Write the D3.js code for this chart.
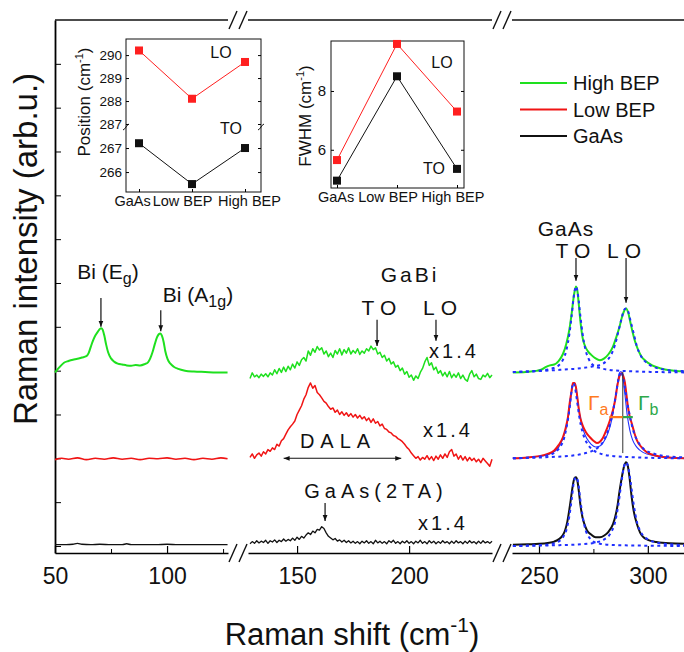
<!DOCTYPE html>
<html>
<head>
<meta charset="utf-8">
<script src="https://cdn.jsdelivr.net/npm/d3@7"></script>
<style>
body { margin: 0; background: #fff; }
text { font-family: "Liberation Sans", Arial, sans-serif; fill: #111; }
</style>
</head>
<body>
<div id="my_dataviz"></div>
<script>
// ---- data ----
var samples = ["GaAs", "Low BEP", "High BEP"];
var posLO = [290.2, 288.1, 289.7];
var posTO = [267.2, 265.5, 267.0];
var fwhmLO = [5.65, 9.6, 7.3];
var fwhmTO = [4.95, 8.5, 5.35];

var legendNames = ["High BEP", "Low BEP", "GaAs"];
var colors = { high: "#1ee01e", low: "#f01414", gaas: "#111111", fit: "#1f2fff" };

// panel 1 (Bi modes), [shift, intensity]
var highBi = [[50,3.96],[52,4.08],[54,4.18],[56,4.22],[58,4.25],[60,4.27],[62,4.3],[64,4.33],[65,4.4],[66,4.55],[67,4.69],[68,4.8],[69,4.88],[70,4.95],[70.6,4.97],[71.3,4.93],[72,4.8],[72.8,4.6],[73.7,4.42],[75,4.28],[76.5,4.2],[78,4.16],[80,4.14],[82,4.12],[84,4.11],[86,4.13],[88,4.12],[90,4.15],[91.5,4.19],[92.5,4.28],[93.5,4.42],[94.5,4.6],[95.5,4.76],[96.3,4.83],[97,4.85],[97.7,4.8],[98.5,4.65],[99.2,4.45],[100.2,4.27],[101.5,4.16],[103,4.09],[105,4.04],[108,4.0],[112,3.98],[117,3.97],[122,3.96],[127,3.96]];
var lowBi = [[50,1.97],[53,2.0],[56,1.98],[60,2.01],[64,1.97],[68,2.0],[72,1.98],[76,2.01],[80,1.98],[84,2.0],[88,1.97],[92,2.0],[96,1.99],[100,2.01],[104,1.98],[108,2.0],[112,1.97],[116,2.0],[120,1.98],[124,2.01],[127,1.99]];
var gaasBi = [[50,0.03],[55,0.03],[58,0.04],[60,0.06],[62,0.04],[66,0.03],[70,0.04],[75,0.03],[80,0.03],[82,0.05],[84,0.03],[90,0.03],[95,0.03],[100,0.04],[105,0.03],[110,0.03],[115,0.03],[120,0.03],[127,0.03]];

// panel 2 (GaBi / DALA), one value per cm-1 from 129
var gabiStart = 129;
var highGaBi = [3.82,3.95,3.86,3.9,3.84,3.92,3.87,3.93,3.86,3.95,
  3.9,4.02,3.93,4.05,3.96,4.08,3.98,4.1,4.02,4.15,
  4.06,4.2,4.12,4.25,4.3,4.22,4.45,4.35,4.5,4.42,
  4.55,4.47,4.52,4.38,4.45,4.32,4.4,4.3,4.46,4.38,
  4.5,4.36,4.48,4.4,4.52,4.38,4.46,4.4,4.5,4.37,
  4.45,4.4,4.5,4.45,4.56,4.48,4.52,4.38,4.42,4.3,
  4.35,4.22,4.28,4.15,4.2,4.08,4.12,4.0,4.06,3.92,
  3.98,3.85,3.9,3.78,3.88,3.82,3.96,4.05,4.2,4.3,
  4.12,4.18,4.02,4.08,3.94,4.0,3.88,3.96,3.86,3.98,
  3.84,3.92,3.85,3.95,3.82,3.9,3.8,3.76,3.92,4.0,
  3.86,3.92,3.82,3.8,3.9,3.86,3.94,3.84,3.9];
var lowGaBi = [2.02,2.1,2.0,2.08,2.12,2.05,2.15,2.1,2.2,2.16,
  2.24,2.2,2.32,2.28,2.4,2.45,2.55,2.65,2.72,2.78,
  2.85,3.0,3.1,3.2,3.35,3.45,3.62,3.72,3.6,3.66,
  3.5,3.45,3.38,3.3,3.26,3.18,3.12,3.15,3.05,3.1,
  3.0,3.06,2.98,3.04,2.96,3.02,2.94,3.0,2.92,2.98,
  2.9,2.95,2.86,2.92,2.82,2.9,2.8,2.84,2.74,2.78,
  2.68,2.66,2.6,2.58,2.52,2.5,2.45,2.42,2.38,2.32,
  2.25,2.2,2.12,2.06,2.0,2.04,1.96,2.02,1.98,2.06,
  1.97,2.04,1.95,2.05,1.98,2.08,2.0,2.1,2.02,2.15,
  2.2,2.05,2.1,1.98,2.06,1.96,2.04,1.94,2.02,1.95,
  2.0,1.92,1.98,1.9,2.0,1.94,1.88,1.82,1.98];
var gaasGaBi = [0.05,0.1,0.06,0.12,0.07,0.11,0.08,0.13,0.06,0.12,
  0.09,0.14,0.08,0.13,0.1,0.16,0.11,0.15,0.12,0.18,
  0.13,0.2,0.15,0.22,0.18,0.25,0.3,0.26,0.34,0.3,
  0.38,0.36,0.44,0.4,0.3,0.22,0.18,0.14,0.17,0.11,
  0.14,0.09,0.13,0.08,0.12,0.07,0.11,0.06,0.1,0.05,
  0.11,0.07,0.12,0.06,0.1,0.05,0.13,0.07,0.11,0.06,
  0.1,0.05,0.12,0.08,0.13,0.06,0.1,0.05,0.11,0.07,
  0.12,0.06,0.1,0.05,0.11,0.07,0.13,0.06,0.1,0.05,
  0.12,0.07,0.11,0.05,0.1,0.06,0.12,0.07,0.1,0.05,
  0.11,0.06,0.12,0.07,0.1,0.05,0.11,0.06,0.12,0.07,
  0.1,0.05,0.11,0.06,0.12,0.07,0.1,0.06,0.11];

// panel 3 (GaAs TO/LO), [shift, intensity]
var highGaAs = [[238,3.96],[244,3.97],[248,3.99],[251,4.02],[253,4.08],[255,4.12],[257,4.14],[259,4.22],[261,4.38],[262.5,4.6],[264,4.95],[265,5.3],[266,5.7],[267,5.92],[267.7,5.8],[268.4,5.45],[269.2,5.05],[270,4.76],[271,4.58],[272.5,4.44],[274,4.36],[276,4.28],[278,4.24],[280,4.28],[282,4.38],[284,4.55],[285.5,4.76],[287,5.0],[288,5.2],[289,5.35],[290,5.42],[291,5.32],[292,5.1],[293,4.88],[294,4.69],[295.5,4.48],[297,4.33],[299,4.22],[302,4.12],[306,4.05],[310,4.01],[318,3.98]];
var lowGaAs = [[238,2.0],[245,2.02],[250,2.05],[254,2.1],[257,2.18],[259,2.3],[261,2.48],[262.3,2.7],[263.3,2.94],[264.2,3.3],[265,3.55],[265.6,3.72],[266.3,3.72],[267,3.62],[267.6,3.4],[268.3,3.12],[269,2.92],[270,2.76],[271.5,2.6],[273.4,2.48],[275,2.4],[276.6,2.35],[278,2.38],[279.4,2.47],[281,2.65],[282.6,2.87],[284,3.1],[285,3.33],[286.2,3.71],[287.2,3.9],[288,3.94],[288.7,3.88],[289.4,3.75],[290.2,3.45],[290.8,3.2],[291.7,2.95],[292.6,2.8],[294,2.55],[295,2.41],[297,2.26],[299.5,2.14],[303,2.07],[307,2.03],[318,2.0]];
var gaasGaAs = [[238,0.03],[245,0.04],[250,0.05],[254,0.07],[257,0.1],[259,0.15],[261,0.25],[262,0.36],[263,0.55],[264,0.85],[265,1.2],[265.6,1.4],[266.3,1.55],[267,1.57],[267.6,1.5],[268.3,1.25],[269,0.95],[270,0.65],[271,0.48],[272,0.36],[274,0.26],[276,0.2],[278,0.2],[280,0.24],[282,0.33],[284,0.5],[285,0.66],[286,0.9],[287,1.25],[288,1.55],[289,1.8],[290,1.91],[290.7,1.85],[291.5,1.6],[292.5,1.15],[293.5,0.8],[295,0.5],[296.5,0.3],[298,0.2],[300,0.14],[304,0.09],[310,0.06],[318,0.05]];

// Lorentzian components and fit
var highTOfit = [[238,3.97],[250,4.0],[256,4.05],[259,4.12],[261,4.25],[262.5,4.45],[264,4.85],[265,5.25],[266,5.7],[267,5.92],[268,5.7],[269,5.25],[270,4.85],[271.5,4.45],[273,4.25],[275,4.12],[278,4.06],[282,4.02],[290,3.99],[318,3.96]];
var highLOfit = [[238,3.97],[250,3.99],[260,4.02],[266,4.04],[270,4.06],[274,4.09],[278,4.13],[281,4.22],[283,4.35],[285,4.6],[286.5,4.9],[288,5.2],[289,5.38],[290,5.42],[291,5.35],[292,5.15],[293.5,4.85],[295,4.55],[297,4.32],[299,4.2],[302,4.1],[306,4.04],[312,4.0],[318,3.99]];
var lowTOfit = [[238,2.0],[250,2.04],[255,2.08],[258,2.16],[260,2.28],[261.5,2.45],[263,2.8],[264.2,3.2],[265,3.55],[265.8,3.72],[266.6,3.6],[267.5,3.3],[268.5,2.95],[270,2.6],[272,2.35],[274,2.22],[277,2.13],[280,2.08],[285,2.05],[295,2.02],[318,2.0]];
var lowLOfit = [[238,2.0],[255,2.03],[265,2.06],[270,2.1],[274,2.16],[277,2.24],[279.5,2.38],[281.5,2.6],[283.5,2.95],[285,3.35],[286.3,3.75],[287.7,3.98],[289,3.75],[290.3,3.35],[291.8,2.95],[293.5,2.6],[295.5,2.38],[298,2.22],[302,2.12],[308,2.05],[318,2.02]];
var lowSumFit = [[238,2.0],[250,2.04],[256,2.12],[259,2.25],[261,2.45],[262.5,2.7],[263.7,3.0],[264.7,3.4],[265.6,3.7],[266.4,3.72],[267.3,3.5],[268.2,3.15],[269.3,2.85],[270.5,2.62],[272,2.45],[274,2.32],[276,2.26],[278,2.28],[280,2.4],[282,2.62],[283.5,2.9],[284.8,3.3],[286,3.7],[287,3.95],[287.7,3.98],[288.5,3.85],[289.5,3.45],[290.5,3.0],[291.7,2.65],[293,2.42],[295,2.25],[298,2.13],[303,2.06],[310,2.02],[318,2.0]];
var gaasTOfit = [[238,0.0],[250,0.02],[256,0.05],[259,0.1],[261,0.2],[262.5,0.35],[264,0.7],[265,1.05],[266,1.45],[267,1.57],[268,1.45],[269,1.05],[270,0.7],[271.5,0.35],[273,0.2],[275,0.1],[278,0.05],[285,0.02],[318,0.0]];
var gaasLOfit = [[238,0.0],[260,0.02],[270,0.04],[276,0.08],[280,0.15],[283,0.3],[285,0.55],[286.5,0.95],[288,1.5],[289,1.8],[290,1.91],[291,1.8],[292,1.5],[293.5,0.95],[295,0.55],[297,0.3],[300,0.15],[304,0.08],[310,0.04],[318,0.02]];

var yTicks = d3.range(0, 12);

// ---- svg ----
var W = 684, H = 652;
var svg = d3.select("#my_dataviz").append("svg")
  .attr("width", W).attr("height", H);

var defs = svg.append("defs");
defs.append("marker").attr("id", "head")
  .attr("viewBox", "0 0 10 10").attr("refX", 10).attr("refY", 5)
  .attr("markerWidth", 6).attr("markerHeight", 6).attr("orient", "auto-start-reverse")
  .attr("markerUnits", "userSpaceOnUse")
  .append("path").attr("d", "M0,1 L10,5 L0,9 Z").attr("fill", "#111");

// scales for the three broken-axis panels
var y = d3.scaleLinear().domain([-0.16, 12]).range([553, 20]);
var x1 = d3.scaleLinear().domain([50, 127.2]).range([55, 228]);
var x2 = d3.scaleLinear().domain([128.1, 237]).range([248, 492]);
var x3 = d3.scaleLinear().domain([237.6, 318]).range([512, 687]);

function lineOn(xs, curve) {
  return d3.line().x(function(d) { return xs(d[0]); }).y(function(d) { return y(d[1]); })
    .curve(curve || d3.curveLinear);
}
function zipGrid(vals) {
  return vals.map(function(v, i) { return [gabiStart + i, v]; });
}

// Add X axis segments
var bottomAxes = [
  { s: x1, major: [50, 100], minor: [75, 125] },
  { s: x2, major: [150, 200], minor: [] },
  { s: x3, major: [250, 300], minor: [275] }
];
bottomAxes.forEach(function(a) {
  var g = svg.append("g").attr("transform", "translate(0,553)")
    .call(d3.axisBottom(a.s).tickValues(a.major).tickSize(-7).tickSizeOuter(0).tickPadding(15));
  g.select(".domain").attr("stroke-width", 1.6);
  g.selectAll(".tick line").attr("stroke-width", 1.2);
  g.selectAll("text").style("font-size", "23px").attr("fill", "#111");
  if (a.minor.length) {
    svg.append("g").attr("transform", "translate(0,553)")
      .call(d3.axisBottom(a.s).tickValues(a.minor).tickSize(-4).tickFormat(""))
      .select(".domain").remove();
  }
});

// top frame line, broken like the bottom axis
[[x1, 50, 127.2], [x2, 128.1, 237], [x3, 237.6, 318]].forEach(function(p) {
  svg.append("line").attr("x1", p[0](p[1])).attr("x2", p[0](p[2]))
    .attr("y1", 20).attr("y2", 20).attr("stroke", "#111").attr("stroke-width", 1.6);
});

// break marks
function breakMark(xc, yc) {
  [-5, 5].forEach(function(o) {
    svg.append("line")
      .attr("x1", xc + o - 4).attr("y1", yc + 9)
      .attr("x2", xc + o + 4).attr("y2", yc - 9)
      .attr("stroke", "#111").attr("stroke-width", 1.4);
  });
}
var gap1 = (x1(127.2) + x2(128.1)) / 2, gap2 = (x2(237) + x3(237.6)) / 2;
breakMark(gap1, 553); breakMark(gap2, 553);
breakMark(gap1, 20); breakMark(gap2, 20);

// Add Y axis
var ya = svg.append("g").attr("transform", "translate(55,0)")
  .call(d3.axisLeft(y).tickValues(yTicks).tickSize(-6).tickSizeOuter(0).tickFormat(""));
ya.select(".domain").attr("stroke-width", 1.8);

// ---- spectra ----
var smooth = d3.curveMonotoneX;
function drawLine(data, xs, color, width, curve, dash) {
  var p = svg.append("path").datum(data)
    .attr("fill", "none").attr("stroke", color).attr("stroke-width", width)
    .attr("stroke-linejoin", "round")
    .attr("d", lineOn(xs, curve));
  if (dash) p.attr("stroke-dasharray", dash);
  return p;
}

drawLine(highBi, x1, colors.high, 2, smooth);
drawLine(lowBi, x1, colors.low, 1.6, smooth);
drawLine(gaasBi, x1, colors.gaas, 1.4, smooth);

drawLine(zipGrid(highGaBi), x2, colors.high, 1.5);
drawLine(zipGrid(lowGaBi), x2, colors.low, 1.5);
drawLine(zipGrid(gaasGaBi), x2, colors.gaas, 1.3);

drawLine(lowSumFit, x3, colors.fit, 1.1, smooth);
drawLine(highGaAs, x3, colors.high, 2, smooth);
drawLine(lowGaAs, x3, colors.low, 2, smooth);
drawLine(gaasGaAs, x3, colors.gaas, 2, smooth);
[highTOfit, highLOfit, lowTOfit, lowLOfit, gaasTOfit, gaasLOfit].forEach(function(c) {
  drawLine(c, x3, colors.fit, 2, smooth, "3,3.5");
});

// ---- annotations ----
function arrow(xs, s, v0, v1) {
  svg.append("line").attr("x1", xs(s)).attr("x2", xs(s))
    .attr("y1", y(v0)).attr("y2", y(v1))
    .attr("stroke", "#111").attr("stroke-width", 1.2).attr("marker-end", "url(#head)");
}
function label(x, yb, txt, size, spacing, anchor) {
  return svg.append("text").attr("x", x).attr("y", yb)
    .attr("text-anchor", anchor || "middle")
    .style("font-size", size + "px").style("letter-spacing", (spacing || 0) + "px")
    .text(txt);
}

// Bi modes
var t = svg.append("text").attr("x", 108).attr("y", 279).attr("text-anchor", "middle").style("font-size", "21px");
t.append("tspan").text("Bi (E");
t.append("tspan").attr("dy", 5).style("font-size", "16px").text("g");
t.append("tspan").attr("dy", -5).text(")");
t = svg.append("text").attr("x", 198).attr("y", 302).attr("text-anchor", "middle").style("font-size", "21px");
t.append("tspan").text("Bi (A");
t.append("tspan").attr("dy", 5).style("font-size", "16px").text("1g");
t.append("tspan").attr("dy", -5).text(")");
arrow(x1, 70.5, 5.66, 5.0);
arrow(x1, 97.2, 5.38, 4.9);

// GaBi
label(410, 282, "GaBi", 21, 3);
label(382, 315, "TO", 21, 6);
label(443, 315, "LO", 21, 6);
arrow(x2, 185.7, 5.16, 4.56);
arrow(x2, 212, 5.16, 4.68);
label(454, 358, "x1.4", 20, 3);
label(448, 437, "x1.4", 20, 3);
label(443, 530, "x1.4", 20, 3);
label(338, 448, "DALA", 20, 6);
svg.append("line").attr("x1", x2(144)).attr("x2", x2(196.5))
  .attr("y1", y(2.0)).attr("y2", y(2.0))
  .attr("stroke", "#111").attr("stroke-width", 1.1)
  .attr("marker-start", "url(#head)").attr("marker-end", "url(#head)");
label(376, 498, "GaAs(2TA)", 20, 5);
arrow(x2, 162.5, 0.98, 0.57);

// GaAs TO / LO
label(566, 236, "GaAs", 21, 1);
label(576, 258, "TO", 21, 6);
label(627, 258, "LO", 21, 6);
arrow(x3, 267, 6.57, 6.05);
arrow(x3, 290, 6.57, 5.55);

// linewidth marks on the low-BEP spectrum
svg.append("line").attr("x1", x3(288.5)).attr("x2", x3(288.5))
  .attr("y1", y(3.97)).attr("y2", y(2.12)).attr("stroke", "#333").attr("stroke-width", 1);
svg.append("line").attr("x1", x3(282.3)).attr("x2", x3(288.5))
  .attr("y1", y(2.94)).attr("y2", y(2.94)).attr("stroke", "#ff7a1e").attr("stroke-width", 2.2);
svg.append("line").attr("x1", x3(288.5)).attr("x2", x3(293.1))
  .attr("y1", y(2.94)).attr("y2", y(2.94)).attr("stroke", "#2ea84a").attr("stroke-width", 2.2);
t = svg.append("text").attr("x", 588).attr("y", 410).style("font-size", "21px");
t.append("tspan").style("fill", "#ff7a1e").text("Γ");
t.append("tspan").attr("dy", 5).style("fill", "#ff7a1e").style("font-size", "16px").text("a");
t = svg.append("text").attr("x", 638).attr("y", 410).style("font-size", "21px");
t.append("tspan").style("fill", "#2ea84a").text("Γ");
t.append("tspan").attr("dy", 5).style("fill", "#2ea84a").style("font-size", "16px").text("b");

// axis titles
t = svg.append("text").attr("x", 352).attr("y", 645).attr("text-anchor", "middle").style("font-size", "31px");
t.append("tspan").text("Raman shift (cm");
t.append("tspan").attr("dy", -13).style("font-size", "21px").text("-1");
t.append("tspan").attr("dy", 13).text(")");
svg.append("text").attr("transform", "translate(37,249) rotate(-90)")
  .attr("text-anchor", "middle").style("font-size", "33px")
  .text("Raman intensity (arb.u.)");

// legend
var legendColors = [colors.high, colors.low, colors.gaas];
legendNames.forEach(function(n, i) {
  var ly = 83 + i * 26.5;
  svg.append("line").attr("x1", 520).attr("x2", 567).attr("y1", ly).attr("y2", ly)
    .attr("stroke", legendColors[i]).attr("stroke-width", 2);
  svg.append("text").attr("x", 573).attr("y", ly + 7).style("font-size", "20px").text(n);
});

// ---- inset helpers ----
function insetSeries(xs, ys, vals, color) {
  svg.append("path").datum(vals)
    .attr("fill", "none").attr("stroke", color).attr("stroke-width", 1)
    .attr("d", d3.line().x(function(d, i) { return xs(samples[i]); }).y(function(d) { return ys(d); }));
  svg.append("g").selectAll("rect").data(vals).enter().append("rect")
    .attr("x", function(d, i) { return xs(samples[i]) - 4; })
    .attr("y", function(d) { return ys(d) - 4; })
    .attr("width", 8).attr("height", 8).attr("fill", color);
}
function insetXAxis(xs, yb, shifts) {
  var g = svg.append("g").attr("transform", "translate(0," + yb + ")")
    .call(d3.axisBottom(xs).tickSize(-3).tickSizeOuter(0).tickPadding(4));
  g.select(".domain").remove();
  g.selectAll("text").style("font-size", "14.5px")
    .attr("dx", function(d, i) { return shifts[i]; });
}
function insetTitle(x, yc, name) {
  var tt = svg.append("text").attr("transform", "translate(" + x + "," + yc + ") rotate(-90)")
    .attr("text-anchor", "middle").style("font-size", "17px");
  tt.append("tspan").text(name + " (cm");
  tt.append("tspan").attr("dy", -7).style("font-size", "11px").text("-1");
  tt.append("tspan").attr("dy", 7).text(")");
}

// ---- inset 1: peak positions ----
var in1 = { l: 126, r: 261, t: 39, b: 192, br: 127 };
var pxA = d3.scalePoint().domain(samples).range([139, 245]);
var pyHi = d3.scaleLinear().domain([286.87, 290.7]).range([in1.br, in1.t]);
var pyLo = d3.scaleLinear().domain([265.17, 267.875]).range([in1.b, in1.br]);
svg.append("rect").attr("x", in1.l).attr("y", in1.t).attr("width", in1.r - in1.l).attr("height", in1.b - in1.t)
  .attr("fill", "#fff").attr("stroke", "#111").attr("stroke-width", 1);
[[pyHi, [287, 288, 289, 290]], [pyLo, [266, 267]]].forEach(function(p) {
  var g = svg.append("g").attr("transform", "translate(" + in1.l + ",0)")
    .call(d3.axisLeft(p[0]).tickValues(p[1]).tickSize(-3).tickSizeOuter(0).tickPadding(4).tickFormat(d3.format("d")));
  g.select(".domain").remove();
  g.selectAll("text").style("font-size", "13.5px");
  svg.append("g").attr("transform", "translate(" + in1.r + ",0)")
    .call(d3.axisRight(p[0]).tickValues(p[1]).tickSize(-3).tickFormat(""))
    .select(".domain").remove();
});
insetXAxis(pxA, in1.b, [-7, -10, 4]);
// y-axis break marks of the inset
[in1.l, in1.r].forEach(function(xx) {
  svg.append("path").attr("d", "M" + (xx - 3) + "," + (in1.br + 3) + " q 2,-1 3,-3 t 3,-3")
    .attr("fill", "none").attr("stroke", "#111").attr("stroke-width", 1);
});
insetSeries(pxA, pyHi, posLO, "#ff1f1f");
insetSeries(pxA, pyLo, posTO, "#111");
label(221, 58, "LO", 16);
label(231, 134, "TO", 16);
insetTitle(90, 102, "Position");

// ---- inset 2: FWHM ----
var in2 = { l: 331, r: 464, t: 41, b: 188 };
var fxA = d3.scalePoint().domain(samples).range([337, 457]);
var fy = d3.scaleLinear().domain([4.7, 9.7]).range([in2.b, in2.t]);
svg.append("rect").attr("x", in2.l).attr("y", in2.t).attr("width", in2.r - in2.l).attr("height", in2.b - in2.t)
  .attr("fill", "#fff").attr("stroke", "#111").attr("stroke-width", 1);
var g2 = svg.append("g").attr("transform", "translate(" + in2.l + ",0)")
  .call(d3.axisLeft(fy).tickValues([6, 8]).tickSize(-3).tickSizeOuter(0).tickPadding(5).tickFormat(d3.format("d")));
g2.select(".domain").remove();
g2.selectAll("text").style("font-size", "15px");
svg.append("g").attr("transform", "translate(" + in2.r + ",0)")
  .call(d3.axisRight(fy).tickValues([6, 8]).tickSize(-3).tickFormat(""))
  .select(".domain").remove();
insetXAxis(fxA, in2.b, [-1.5, -9.5, -4.5]);
insetSeries(fxA, fy, fwhmLO, "#ff1f1f");
insetSeries(fxA, fy, fwhmTO, "#111");
label(442, 68, "LO", 16);
label(434, 174, "TO", 16);
insetTitle(311, 116, "FWHM");
</script>
</body>
</html>
